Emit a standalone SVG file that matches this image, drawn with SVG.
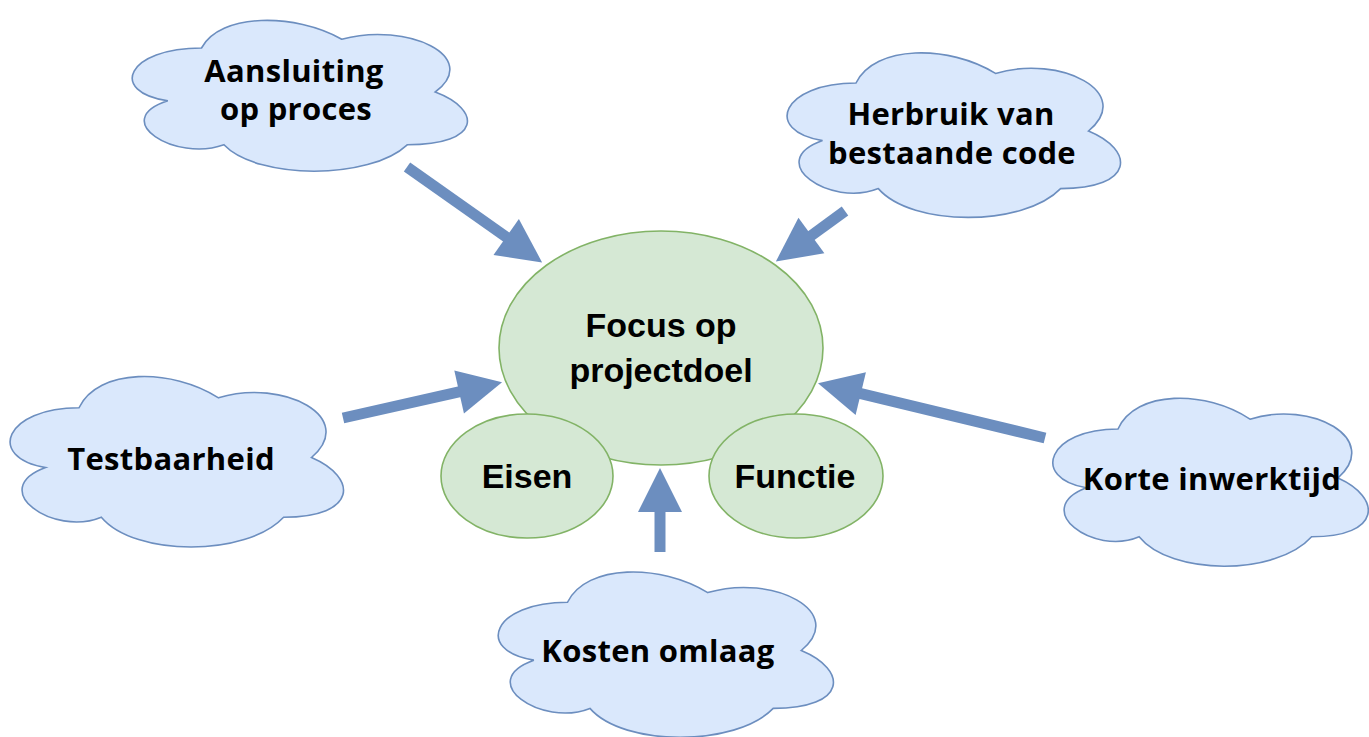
<svg xmlns="http://www.w3.org/2000/svg" xmlns:xlink="http://www.w3.org/1999/xlink" width="1369" height="737" viewBox="0 0 1369 737">
  <style>
    .cloud { fill: #dae8fc; stroke: #6c8ebf; stroke-width: 1.6; vector-effect: non-scaling-stroke; }
    .goal { fill: #d5e8d4; stroke: #82b366; stroke-width: 1.6; }
    .ctext { font-family: "Open Sans", "Noto Sans", "Liberation Sans", sans-serif; font-weight: bold; font-size: 31px; letter-spacing: 0.3px; fill: #000; text-anchor: middle; }
    .gtext { font-family: "Liberation Sans", Arial, sans-serif; font-weight: bold; font-size: 34px; fill: #000; text-anchor: middle; }
    .arrow { stroke: #6c8ebf; stroke-width: 11; fill: none; marker-end: url(#head); }
  </style>
  <defs>
    <!-- cloud outline in a 100 x 100 box -->
    <path id="cloud" class="cloud" d="M25,25 C5,25 0,50 16,55 C0,66 18,90 31,80 C40,100 70,100 80,80 C100,80 100,60 87.5,50 C100,30 80,10 62.5,20 C50,5 30,5 25,25 Z"/>
    <marker id="head" markerUnits="userSpaceOnUse" markerWidth="46" markerHeight="46" refX="1" refY="22" orient="auto" overflow="visible">
      <path d="M0,0 L44,22 L0,44 Z" fill="#6c8ebf"/>
    </marker>
  </defs>

  <!-- central goal -->
  <g id="focus">
    <ellipse class="goal" cx="661" cy="348" rx="162" ry="117"/>
    <text class="gtext" x="661" y="337">Focus op</text>
    <text class="gtext" x="661" y="382">projectdoel</text>
  </g>
  <g id="eisen">
    <ellipse class="goal" cx="527" cy="476" rx="86" ry="62"/>
    <text class="gtext" x="527" y="488">Eisen</text>
  </g>
  <g id="functie">
    <ellipse class="goal" cx="796" cy="476" rx="87" ry="62"/>
    <text class="gtext" x="795" y="488">Functie</text>
  </g>

  <!-- surrounding factors -->
  <g id="aansluiting">
    <use xlink:href="#cloud" transform="translate(108,4) scale(3.74,1.76)"/>
    <text class="ctext" x="294" y="81.5">Aansluiting</text>
    <text class="ctext" x="296" y="120">op proces</text>
  </g>
  <g id="herbruik">
    <use xlink:href="#cloud" transform="translate(763,35) scale(3.72,1.92)"/>
    <text class="ctext" x="951" y="125">Herbruik van</text>
    <text class="ctext" x="952" y="163.5">bestaande code</text>
  </g>
  <g id="testbaarheid">
    <use xlink:href="#cloud" transform="translate(-14,358) scale(3.72,1.99)"/>
    <text class="ctext" x="171" y="470">Testbaarheid</text>
  </g>
  <g id="inwerktijd">
    <use xlink:href="#cloud" transform="translate(1030,380) scale(3.52,1.96)"/>
    <text class="ctext" x="1212" y="490">Korte inwerktijd</text>
  </g>
  <g id="kosten">
    <use xlink:href="#cloud" transform="translate(474,554) scale(3.74,1.93)"/>
    <text class="ctext" x="658" y="662">Kosten omlaag</text>
  </g>

  <!-- arrows pointing at the goal -->
  <g id="connectors">
    <line class="arrow" x1="407" y1="167" x2="507" y2="237.6"/>
    <line class="arrow" x1="845" y1="211" x2="810.6" y2="236.1"/>
    <line class="arrow" x1="343" y1="418" x2="460.1" y2="391.7"/>
    <line class="arrow" x1="1045" y1="438" x2="859.8" y2="393.3"/>
    <line class="arrow" x1="660" y1="552" x2="660" y2="511"/>
  </g>
</svg>
